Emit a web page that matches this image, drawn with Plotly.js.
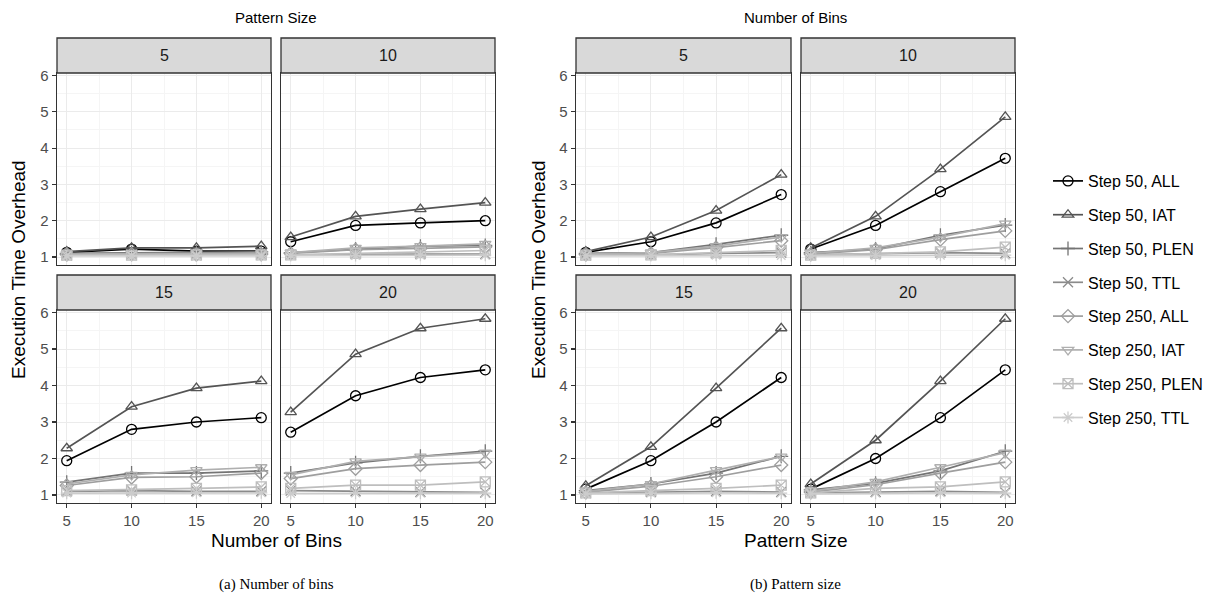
<!DOCTYPE html>
<html><head><meta charset="utf-8">
<script src="https://cdn.plot.ly/plotly-3.0.1.min.js"></script>
<style>html,body{margin:0;padding:0;background:#fff}#chart{width:1225px;height:599px}</style>
</head><body><div id="chart"></div>
<script>
// facet / x categories
const patternSizes = [5, 10, 15, 20];
const binCounts = [5, 10, 15, 20];
const seriesNames = ["Step 50, ALL", "Step 50, IAT", "Step 50, PLEN", "Step 50, TTL",
                     "Step 250, ALL", "Step 250, IAT", "Step 250, PLEN", "Step 250, TTL"];
// values: rows = pattern size (5,10,15,20), columns = number of bins (5,10,15,20)
const step50All = [[1.13, 1.22, 1.16, 1.16], [1.42, 1.87, 1.94, 2.00], [1.94, 2.80, 3.00, 3.12], [2.72, 3.72, 4.22, 4.43]];
const step50Iat = [[1.15, 1.25, 1.25, 1.30], [1.55, 2.12, 2.32, 2.50], [2.28, 3.42, 3.93, 4.12], [3.27, 4.86, 5.57, 5.83]];
const step50Plen = [[1.10, 1.12, 1.12, 1.14], [1.12, 1.22, 1.30, 1.32], [1.35, 1.60, 1.60, 1.66], [1.60, 1.88, 2.06, 2.20]];
const step50Ttl = [[1.05, 1.06, 1.05, 1.06], [1.06, 1.08, 1.08, 1.08], [1.10, 1.12, 1.10, 1.10], [1.12, 1.10, 1.08, 1.07]];
const step250All = [[1.07, 1.08, 1.07, 1.08], [1.10, 1.20, 1.24, 1.28], [1.26, 1.48, 1.50, 1.60], [1.45, 1.72, 1.82, 1.90]];
const step250Iat = [[1.08, 1.10, 1.10, 1.10], [1.12, 1.25, 1.30, 1.36], [1.30, 1.55, 1.68, 1.76], [1.55, 1.92, 2.05, 2.16]];
const step250Plen = [[1.05, 1.05, 1.06, 1.06], [1.06, 1.10, 1.12, 1.18], [1.12, 1.14, 1.18, 1.22], [1.18, 1.27, 1.27, 1.36]];
const step250Ttl = [[1.03, 1.03, 1.03, 1.03], [1.04, 1.04, 1.05, 1.05], [1.05, 1.05, 1.06, 1.06], [1.04, 1.05, 1.05, 1.05]];
const seriesData = [step50All, step50Iat, step50Plen, step50Ttl, step250All, step250Iat, step250Plen, step250Ttl];

// styles
const colors = ["#000000", "#545454", "#747474", "#8B8B8B", "#9E9E9E", "#AFAFAF", "#BEBEBE", "#CCCCCC"];
const symbols = ["circle-open", "triangle-up-open", "cross-thin-open", "x-thin-open",
                 "diamond-open", "triangle-down-open", "square-x-open", "asterisk-open"];

const W = 1225, H = 599;
const colsPx = [[[57, 271], [281, 495]], [[576, 791], [801, 1015]]];
const stripPx = [[38, 73], [275, 310]];
const plotPx = [[73, 265], [310, 503]];
const px = v => v / W;
const py = v => 1 - v / H;
const FONT = "Liberation Sans, Arial, Helvetica, sans-serif";

const traces = [];
const layout = {
  width: W, height: H, margin: {l: 0, r: 0, t: 0, b: 0},
  paper_bgcolor: "#fff", plot_bgcolor: "#fff",
  font: {family: FONT, color: "#000"},
  showlegend: true,
  legend: {x: px(1048), y: py(164), xanchor: "left", yanchor: "top",
           font: {family: FONT, size: 16, color: "#000"}, tracegroupgap: 10,
           itemwidth: 30, bgcolor: "rgba(0,0,0,0)"},
  shapes: [], annotations: []
};

let idx = 0;
for (let b = 0; b < 2; b++) {
  for (let f = 0; f < 4; f++) {
    idx++;
    const r = Math.floor(f / 2), c = f % 2;
    const [x0, x1] = colsPx[b][c];
    const [y0, y1] = plotPx[r];
    const xa = idx === 1 ? "xaxis" : "xaxis" + idx;
    const ya = idx === 1 ? "yaxis" : "yaxis" + idx;
    const xs = idx === 1 ? "x" : "x" + idx;
    const ys = idx === 1 ? "y" : "y" + idx;
    layout[xa] = {
      domain: [px(x0), px(x1)], anchor: ys, range: [4.25, 20.75],
      tickmode: "array", tickvals: binCounts, ticktext: binCounts.map(String),
      showticklabels: r === 1, ticks: r === 1 ? "outside" : "", ticklen: 4, tickwidth: 1.1, tickcolor: "#333",
      tickfont: {family: FONT, size: 15, color: "#4D4D4D"},
      showline: true, mirror: true, linecolor: "#333", linewidth: 1.3,
      showgrid: true, gridcolor: "#EBEBEB", gridwidth: 1, zeroline: false,
      minor: {tickmode: "array", tickvals: [7.5, 12.5, 17.5], showgrid: true, gridcolor: "#F5F5F5", gridwidth: 1, ticks: ""}
    };
    layout[ya] = {
      domain: [py(y1), py(y0)], anchor: xs, range: [0.78, 6.07],
      tickmode: "array", tickvals: [1, 2, 3, 4, 5, 6],
      showticklabels: c === 0, ticks: c === 0 ? "outside" : "", ticklen: 4, tickwidth: 1.1, tickcolor: "#333",
      tickfont: {family: FONT, size: 15, color: "#4D4D4D"},
      showline: true, mirror: true, linecolor: "#333", linewidth: 1.3,
      showgrid: true, gridcolor: "#EBEBEB", gridwidth: 1, zeroline: false,
      minor: {tickmode: "array", tickvals: [1.5, 2.5, 3.5, 4.5, 5.5], showgrid: true, gridcolor: "#F5F5F5", gridwidth: 1, ticks: ""}
    };
    // strip
    layout.shapes.push({type: "rect", xref: "paper", yref: "paper",
      x0: px(x0), x1: px(x1), y0: py(stripPx[r][1]), y1: py(stripPx[r][0]),
      fillcolor: "#D9D9D9", line: {color: "#333", width: 1.3}});
    layout.annotations.push({xref: "paper", yref: "paper", x: px((x0 + x1) / 2), y: py((stripPx[r][0] + stripPx[r][1]) / 2),
      text: String(b === 0 ? patternSizes[f] : binCounts[f]), showarrow: false,
      font: {family: FONT, size: 16, color: "#1A1A1A"}, xanchor: "center", yanchor: "middle"});

    for (let s = 0; s < seriesData.length; s++) {
      const ys_ = b === 0 ? seriesData[s][f] : seriesData[s].map(row => row[f]);
      const xs_ = b === 0 ? binCounts : patternSizes;
      traces.push({
        type: "scatter", mode: "lines+markers", x: xs_, y: ys_, xaxis: xs, yaxis: ys,
        name: seriesNames[s], legendgroup: seriesNames[s], showlegend: idx === 1,
        line: {color: colors[s], width: 1.7},
        marker: {symbol: symbols[s], size: 10, color: colors[s], line: {color: colors[s], width: 1.3}},
        hoverinfo: "x+y+name"
      });
    }
  }
}

const ann = (x, y, text, size, extra) => layout.annotations.push(Object.assign({
  xref: "paper", yref: "paper", x: px(x), y: py(y), text, showarrow: false,
  font: {family: FONT, size, color: "#000"}, xanchor: "center", yanchor: "middle"}, extra || {}));

ann(276, 17, "Pattern Size", 15);
ann(795.5, 17, "Number of Bins", 15);
ann(276, 540, "Number of Bins", 19);
ann(795.5, 540, "Pattern Size", 19);
ann(18, 270, "Execution Time Overhead", 19, {textangle: -90});
ann(538, 270, "Execution Time Overhead", 19, {textangle: -90});
ann(276, 584, "(a) Number of bins", 15, {font: {family: "Liberation Serif, Times New Roman, serif", size: 15, color: "#000"}});
ann(795.5, 584, "(b) Pattern size", 15, {font: {family: "Liberation Serif, Times New Roman, serif", size: 15, color: "#000"}});

Plotly.newPlot("chart", traces, layout, {displayModeBar: false, staticPlot: true});
</script>
</body></html>
